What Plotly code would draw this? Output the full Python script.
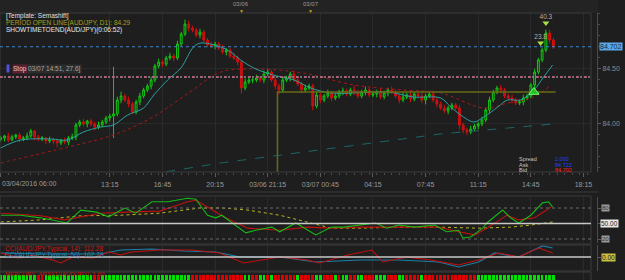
import plotly.graph_objects as go

# ---------------- data ----------------
first_open = 83.860
close = [
    83.872, 83.891, 83.854, 83.882, 83.900, 83.863, 83.872, 83.891, 83.936, 83.882,
    83.863, 83.872, 83.845, 83.854, 83.845, 83.827, 83.854, 83.836, 83.872, 83.882,
    83.991, 84.018, 84.000, 84.027, 84.000, 83.972, 83.991, 84.018, 84.054, 84.072,
    84.091, 84.218, 84.254, 84.218, 84.182, 84.109, 84.200, 84.254, 84.309, 84.345,
    84.400, 84.527, 84.563, 84.545, 84.600, 84.618, 84.600, 84.727, 84.818, 84.909,
    84.872, 84.854, 84.809, 84.836, 84.763, 84.718, 84.709, 84.727, 84.691, 84.654,
    84.672, 84.618, 84.600, 84.563, 84.327, 84.382, 84.400, 84.400, 84.418, 84.400,
    84.454, 84.472, 84.400, 84.345, 84.309, 84.400, 84.418, 84.454, 84.400, 84.363,
    84.309, 84.327, 84.345, 84.163, 84.263, 84.218, 84.254, 84.282, 84.236, 84.254,
    84.291, 84.300, 84.272, 84.309, 84.291, 84.254, 84.291, 84.309, 84.263, 84.272,
    84.291, 84.245, 84.282, 84.309, 84.291, 84.254, 84.218, 84.245, 84.263, 84.227,
    84.272, 84.254, 84.218, 84.254, 84.272, 84.218, 84.182, 84.145, 84.118, 84.145,
    84.172, 84.145, 83.991, 83.945, 83.927, 83.954, 83.982, 84.000, 84.036, 84.127,
    84.218, 84.291, 84.327, 84.309, 84.254, 84.236, 84.218, 84.191, 84.200, 84.236,
    84.254, 84.354, 84.472, 84.582, 84.672, 84.827, 84.763, 84.702,
]
wick_up_pips = [
    2, 1, 3, 2, 1, 2, 2, 3, 2, 1,  2, 2, 1, 3, 2, 2, 1, 2, 2, 3,
    2, 2, 3, 1, 2, 2, 3, 2, 2, 2,  43, 3, 4, 2, 3, 2, 2, 3, 2, 2,
    3, 2, 3, 2, 2, 3, 2, 3, 2, 4,  3, 2, 2, 3, 2, 2, 3, 2, 2, 3,
    2, 2, 3, 2, 2, 3, 2, 2, 3, 2,  3, 3, 2, 2, 2, 3, 2, 2, 3, 2,
    2, 3, 2, 2, 3, 2, 2, 3, 2, 2,  2, 3, 2, 2, 4, 2, 2, 3, 2, 2,
    2, 3, 2, 2, 3, 2, 2, 4, 2, 3,  2, 2, 3, 2, 2, 3, 2, 2, 3, 2,
    2, 2, 3, 2, 2, 3, 2, 2, 3, 2,  3, 2, 2, 3, 2, 2, 3, 2, 2, 3,
    2, 2, 3, 2, 2, 3, 3, 2,
]
wick_dn_pips = [
    2, 3, 2, 1, 2, 3, 2, 2, 2, 3,  2, 2, 3, 2, 3, 4, 2, 2, 3, 2,
    3, 2, 2, 3, 2, 3, 2, 2, 2, 3,  20, 2, 3, 2, 3, 2, 2, 3, 2, 2,
    3, 2, 2, 3, 2, 2, 3, 2, 2, 2,  3, 2, 2, 3, 2, 2, 2, 3, 2, 2,
    3, 2, 2, 3, 5, 2, 2, 3, 2, 2,  3, 2, 2, 3, 4, 2, 2, 3, 2, 2,
    3, 2, 2, 4, 2, 3, 2, 2, 3, 2,  2, 3, 2, 2, 3, 2, 2, 3, 2, 2,
    3, 2, 2, 3, 2, 2, 3, 2, 2, 3,  2, 2, 3, 4, 2, 2, 3, 2, 2, 3,
    2, 2, 4, 3, 3, 2, 2, 3, 2, 2,  3, 2, 2, 3, 2, 2, 3, 2, 2, 3,
    2, 2, 3, 2, 2, 2, 3, 2,
]

fast_ma_x = [0, 5.3, 13.3, 17.8, 22, 26.6, 30, 33.8, 38, 40.7, 44.4, 47.9, 51.3, 53.2, 58.5, 61.2, 63.8,
             67.3, 70, 74.5, 78, 82.4, 87.8, 93.9, 102.9, 109.8, 117, 119.7, 123.1, 125.8, 128.5,
             132.2, 134.8, 138.3, 141.8, 144.4, 146.8]
fast_ma = [83.782, 83.854, 83.863, 83.854, 83.927, 83.972, 83.991, 84.082, 84.145, 84.263, 84.400,
           84.509, 84.700, 84.736, 84.700, 84.654, 84.582, 84.509, 84.472, 84.427, 84.400, 84.327,
           84.282, 84.282, 84.291, 84.245, 84.236, 84.154, 84.063, 84.018, 84.063, 84.154, 84.218,
           84.218, 84.309, 84.427, 84.536]
mid_ma_x = [0, 18, 30, 40, 50, 58.5, 67, 80.5, 94, 107, 117, 128.5, 135, 141, 146.5]
mid_ma = [83.645, 83.791, 83.900, 84.054, 84.282, 84.472, 84.500, 84.463, 84.354, 84.309, 84.282,
          84.145, 84.191, 84.236, 84.354]
slow_ma_x = [44, 58.5, 117, 147]
slow_ma = [83.565, 83.645, 83.909, 84.000]

period_open = 84.29
period_open_x = [73.6, 73.6, 147.6]
period_open_y = [83.40, 84.29, 84.29]
bid, ask, spread = 84.702, 84.722, 2.000
stop_price = 84.427
stop_text = "03/07 14:51, 27.6]"

mark_dn_x = [145.0, 143.6]
mark_dn_y = [84.918, 84.736]
mark_dn_txt = ["40.3", "23.8"]
mark_dn_txt_y = [84.972, 84.791]
mark_up_x = [141.8]
mark_up_y = [84.29]

stoch_k_x = [0, 5.3, 10.6, 17.6, 21.3, 25.5, 28.7, 33, 35.9, 40.2, 44.4, 49.7, 51.9, 55, 57.2, 58.8,
             65.2, 67.8, 72.1, 74.2, 78.5, 83.8, 88, 91.2, 99.7, 102.7, 105.9, 110.1, 115.4, 118.6,
             121.8, 122.9, 125, 128.2, 129.3, 132.4, 133.5, 135.6, 137.8, 141, 144.1, 145.7, 146.8]
stoch_k = [66, 66, 61, 51, 76, 72, 63, 80, 70, 92, 92, 99, 97, 66, 61, 66, 32, 37, 43, 34, 51, 28,
           43, 43, 51, 41, 47, 43, 47, 34, 37, 22, 24, 41, 51, 70, 76, 61, 51, 66, 90, 92, 82]
stoch_d_x = [0, 10.6, 17, 26.6, 33.8, 42.3, 49.7, 51.9, 55, 59.3, 65.7, 74.2, 81.6, 88, 95.5, 103.7,
             116.5, 121.8, 126.1, 129.3, 134.6, 137.8, 142, 145.2, 146.3]
stoch_d = [70, 65, 57, 70, 72, 74, 92, 95, 82, 63, 41, 37, 43, 41, 43, 43, 43, 34, 28, 41, 66, 57,
           61, 76, 82]
slow_osc_x = [0, 10.6, 21.3, 31.9, 42.3, 48.7, 52.9, 59.3, 65.7, 74.2, 82.7, 88, 95.5, 105.9, 116.5,
              127.1, 135.6, 141, 146.8]
slow_osc = [53, 57, 65, 66, 70, 76, 80, 80, 76, 66, 51, 41, 41, 43, 43, 41, 43, 47, 53]

cci50_x = [0, 10.6, 26.6, 31.9, 40.2, 48.7, 57.2, 63.6, 74.2, 83.8, 95.5, 105.9, 116.5, 121.8, 127.1,
           131.4, 137.8, 144.1, 146.8]
cci50 = [60, 45, 45, 105, 120, 90, 75, 0, 0, -75, -45, -45, -75, -150, -75, 60, 0, 165, 135]
cci14_x = [0, 5.3, 8.5, 13.8, 16, 19.1, 24.5, 28.7, 31.9, 34.8, 42.3, 50.8, 58.2, 64.6, 74.2, 81.6,
           84.8, 92.3, 98.7, 101.6, 108, 114.4, 121.8, 127.1, 132.4, 137.8, 143.1, 146.8]
cci14 = [60, -15, 30, -45, -90, 0, -15, 75, 30, 75, 105, 105, 60, -90, 0, -45, -90, 30, 105, -75, 0,
         -45, -120, -45, 60, 0, 135, 60]
cci14_last, cci50_last = 112.28, 102.79

signals = ("gggggggggg" "rrgg" "ggggggggggg" "rrgggg" "gggggggggggggggggggg" "rrrrrrrrrrrrrr"
           "ggrrggrg" "rrrrrrgrrrrggrrrgr" "ggrrggrrrgggrrrggrrrrg" "rrrrrrrrrrrrrr"
           "ggggggggggggggggggggg")

tick_idx = [0, 29, 43, 57, 71, 85, 99, 113, 127, 141, 155]
tick_txt = ["", "13:15", "16:45", "20:15", "03/06 21:15", "03/07 00:45", "04:15", "07:45", "11:15",
            "14:45", "18:15"]
first_tick_txt = "03/04/2016 06:00"
day_marks_idx = [64, 82.5]
day_marks_txt = ["03/06", "03/07"]

# ---------------- derived ----------------
n = len(close)
idx = list(range(n))
opens = [first_open] + close[:-1]
highs = [max(o, c) + u / 100 for o, c, u in zip(opens, close, wick_up_pips)]
lows = [min(o, c) - d / 100 for o, c, d in zip(opens, close, wick_dn_pips)]

W, H = 625, 280
def px(x): return x / W
def py(y): return 1 - y / H

BG = "#1e1e1e"
XR = [-0.2, 157.0]
XD = [0, px(591)]
FONT = "Liberation Sans"

fig = go.Figure()
fig.add_trace(go.Candlestick(
    x=idx, open=opens, high=highs, low=lows, close=close, xaxis="x", yaxis="y",
    increasing=dict(line=dict(color="#12c812", width=1), fillcolor="#143a14"),
    decreasing=dict(line=dict(color="#d01010", width=1), fillcolor="#b81010"),
    whiskerwidth=0, hoverinfo="skip"))
fig.add_trace(go.Scatter(x=slow_ma_x, y=slow_ma, mode="lines",
                         line=dict(color="#1c6666", width=1, dash="dash")))
fig.add_trace(go.Scatter(x=mid_ma_x, y=mid_ma, mode="lines", line_shape="spline",
                         line=dict(color="#a81818", width=1, dash="dot")))
fig.add_trace(go.Scatter(x=fast_ma_x, y=fast_ma, mode="lines", line_shape="spline",
                         line=dict(color="#2aa0a0", width=1)))
fig.add_trace(go.Scatter(x=period_open_x, y=period_open_y, mode="lines",
                         line=dict(color="#6a6a16", width=1.5)))
fig.add_trace(go.Scatter(x=mark_dn_x, y=mark_dn_y, mode="markers",
                         marker=dict(symbol="triangle-down", size=6, color="#a8e040")))
fig.add_trace(go.Scatter(x=mark_dn_x, y=mark_dn_txt_y, mode="text", text=mark_dn_txt,
                         textfont=dict(family=FONT, size=6.5, color="#b0b0b0"), cliponaxis=False))
fig.add_trace(go.Scatter(x=mark_up_x, y=mark_up_y, mode="markers",
                         marker=dict(symbol="triangle-up", size=9, color="#22c022",
                                     line=dict(color="#70ff70", width=1))))

# oscillator panel
fig.add_trace(go.Scatter(x=slow_osc_x, y=slow_osc, mode="lines", xaxis="x2", yaxis="y2",
                         line=dict(color="#b8b820", width=1, dash="dot")))
fig.add_trace(go.Scatter(x=stoch_d_x, y=stoch_d, mode="lines", xaxis="x2", yaxis="y2",
                         line=dict(color="#c01010", width=1.1)))
fig.add_trace(go.Scatter(x=stoch_k_x, y=stoch_k, mode="lines", xaxis="x2", yaxis="y2",
                         line=dict(color="#18b818", width=1.1)))
# CCI panel
fig.add_trace(go.Scatter(x=cci50_x, y=cci50, mode="lines", xaxis="x3", yaxis="y3",
                         line=dict(color="#1a7fa8", width=1.2)))
fig.add_trace(go.Scatter(x=cci14_x, y=cci14, mode="lines", xaxis="x3", yaxis="y3",
                         line=dict(color="#c01010", width=1.1)))
# signal squares
fig.add_trace(go.Bar(x=idx, y=[1] * n, xaxis="x4", yaxis="y4", width=0.72,
                     marker=dict(color=["#00e000" if s == "g" else "#e00000" for s in signals],
                                 line=dict(width=0))))

shapes = []
shapes.append(dict(type="rect", xref="paper", yref="paper", x0=0, x1=px(598), y0=py(13), y1=1,
                   fillcolor="#232323", line=dict(width=0), layer="below"))
for (a, b) in [(13, 172), (196, 244), (245, 271), (272, 281)]:
    shapes.append(dict(type="rect", xref="paper", yref="paper", x0=0, x1=px(591), y0=py(b), y1=py(a),
                       line=dict(color="#3a3a3a", width=1)))
shapes.append(dict(type="line", xref="paper", yref="paper", x0=0, x1=px(598), y0=py(192), y1=py(192),
                   line=dict(color="#3a3a3a", width=1)))
shapes.append(dict(type="line", xref="paper", yref="y", x0=0, x1=px(591), y0=bid, y1=bid,
                   line=dict(color="#3a86cc", width=1.1, dash="dot")))
shapes.append(dict(type="line", xref="paper", yref="y", x0=0, x1=px(591), y0=stop_price, y1=stop_price,
                   line=dict(color="#8a8a8a", width=1.5, dash="2px,2px")))
shapes.append(dict(type="line", xref="paper", yref="y", x0=0, x1=px(591), y0=stop_price, y1=stop_price,
                   line=dict(color="#c0607e", width=1.5, dash="3px,5px")))
for lv, col, dash, w in [(80, "#6a6a6a", "dot", 1), (20, "#6a6a6a", "dot", 1), (50, "#c8c8c8", "solid", 1.5)]:
    shapes.append(dict(type="line", xref="paper", yref="y2", x0=0, x1=px(591), y0=lv, y1=lv,
                       line=dict(color=col, width=w, dash=dash)))
shapes.append(dict(type="line", xref="paper", yref="y3", x0=0, x1=px(591), y0=0, y1=0,
                   line=dict(color="#c8c8c8", width=1.5)))

ann = []
def txt(x, y, s, color, size=6.5, xanchor="left", bg=None, xref="paper", yref="paper"):
    d = dict(x=x, y=y, xref=xref, yref=yref, text=s, showarrow=False, xanchor=xanchor, yanchor="middle",
             font=dict(family=FONT, size=size, color=color))
    if bg:
        d.update(bgcolor=bg, borderpad=0)
    ann.append(d)

txt(px(4), py(16), "[Template: Semashift]", "#e0e0e0")
txt(px(4), py(23), f"PERIOD OPEN LINE(AUD/JPY, D1): {period_open:.2f}", "#a0a020")
txt(px(4), py(30), "SHOWTIMETOEND(AUD/JPY)(0:06:52)", "#e8e8e8")
txt(px(6), py(68.5), "&#8203; ", "#5050d8", bg="#5050d8")
txt(px(12), py(68.5), "Stop", "#e8c8d0", bg="#5a2232")
txt(px(27), py(68.5), stop_text, "#a8a8a8", bg="#2c2c2c")
txt(px(0), py(183), first_tick_txt, "#9a9a9a", size=7)
for i, s in zip(day_marks_idx, day_marks_txt):
    txt(i, py(4), s, "#9a9a9a", size=6, xanchor="center", xref="x")
    txt(i, py(11), "▼", "#d09a20", size=5, xanchor="center", xref="x")
txt(px(599), py(46.5), f"{bid:.3f}", "#0a2a55", size=7, bg="#5aa9e6")
txt(px(517), py(159), "Spread", "#c8c8c8", size=5.5)
txt(px(517), py(164.5), "Ask", "#c8c8c8", size=5.5)
txt(px(517), py(170), "Bid", "#c8c8c8", size=5.5)
txt(px(553), py(159), f"{spread:.3f}", "#2040ff", size=5.5)
txt(px(553), py(164.5), f"{ask:.3f}", "#2040ff", size=5.5)
txt(px(553), py(170), f"{bid:.3f}", "#ff2020", size=5.5)
txt(px(601), py(208), "80", "#303030", size=6, bg="#9a9a9a")
txt(px(600), py(223.5), "50.00", "#202020", size=6.5, bg="#e8e8e8")
txt(px(601), py(239), "20", "#303030", size=6, bg="#9a9a9a")
txt(px(601), py(257.5), "0.00", "#202020", size=6.5, bg="#c8c040")
txt(px(3), py(248.5), f"CCI(AUD/JPY,Typical, 14): {cci14_last:.2f}", "#d01818", size=6.5)
txt(px(3), py(254.5), f"CCI(AUD/JPY,Typical, 50): {cci50_last:.2f}", "#1a8ab8", size=6.5)
txt(px(3), py(274), "MERCURY_ARSI(1)(AUD/JPY): 1.00", "#c01818", size=6)

def xax(domain_anchor, labels):
    d = dict(domain=XD, range=XR, anchor=domain_anchor, tickmode="array", tickvals=tick_idx,
             showgrid=True, gridcolor="#2a2a2a", gridwidth=1, zeroline=False, showline=False,
             fixedrange=True)
    if labels:
        d.update(ticktext=tick_txt, ticks="outside", ticklen=4, tickcolor="#5a5a5a",
                 tickfont=dict(family=FONT, size=7, color="#9a9a9a"), ticklabelstandoff=2,
                 minor=dict(tickmode="linear", tick0=0, dtick=2, ticks="outside", ticklen=2,
                            tickcolor="#4a4a4a", showgrid=False),
                 rangeslider=dict(visible=False))
    else:
        d.update(showticklabels=False, ticks="", matches="x")
    return d

def yax(dom, rng, **kw):
    d = dict(domain=[py(dom[1]), py(dom[0])], range=rng, anchor="free", position=px(597), side="right",
             showline=True, linecolor="#4a4a4a", zeroline=False, fixedrange=True,
             ticks="outside", ticklen=3, tickcolor="#5a5a5a", showgrid=False,
             tickfont=dict(family=FONT, size=7, color="#8a8a8a"))
    d.update(kw)
    return d

fig.update_layout(
    width=W, height=H, margin=dict(l=0, r=0, t=0, b=0),
    paper_bgcolor=BG, plot_bgcolor=BG, showlegend=False, bargap=0,
    xaxis=xax("y", True), xaxis2=xax("y2", False), xaxis3=xax("y3", False), xaxis4=xax("y4", False),
    yaxis=yax((13, 172), [83.563, 85.009], tickmode="array", tickvals=[84.0, 84.5],
              ticktext=["84.00", "84.50"], showgrid=True, gridcolor="#2a2a2a",
              minor=dict(tickmode="linear", tick0=84.0, dtick=0.1, ticks="outside", ticklen=2,
                         tickcolor="#4a4a4a")),
    yaxis2=yax((197, 243), [12.3, 101.3], tickvals=[20, 50, 80], showticklabels=False),
    yaxis3=yax((245, 271), [-210, 180], tickvals=[0], showticklabels=False),
    yaxis4=dict(domain=[0, py(272)], range=[0, 1.6], anchor="x4", visible=False, fixedrange=True),
    shapes=shapes, annotations=ann,
)
fig.write_html("out.html")
